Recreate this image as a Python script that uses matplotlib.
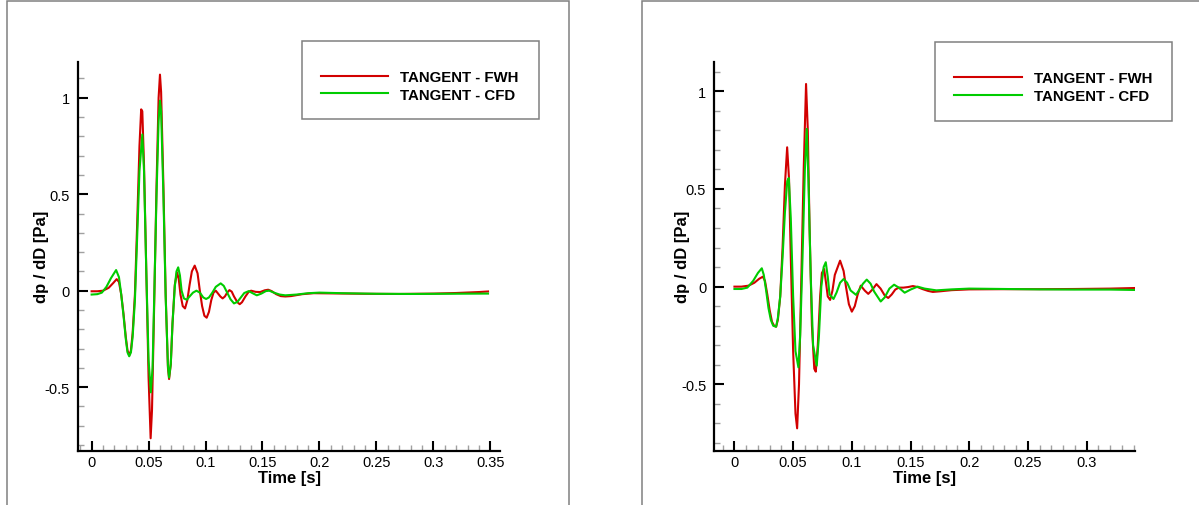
import numpy as np
import matplotlib
matplotlib.use("Agg")
import matplotlib.pyplot as plt
from matplotlib.patches import Rectangle
from matplotlib.ticker import MultipleLocator, FuncFormatter

plt.rcParams['font.family'] = ['Liberation Sans', 'DejaVu Sans']

# left panel: TANGENT - FWH (red)
t_fwh_a = [0.000, 0.005, 0.010, 0.015, 0.019, 0.022, 0.024, 0.026, 0.028, 0.030,
           0.0315, 0.033, 0.0345, 0.036, 0.038, 0.040, 0.042, 0.0435, 0.0445, 0.046,
           0.048, 0.050, 0.0518, 0.053, 0.055, 0.057, 0.0588, 0.060, 0.061, 0.063,
           0.065, 0.067, 0.068, 0.0695, 0.071, 0.073, 0.075, 0.0765, 0.078, 0.080,
           0.082, 0.084, 0.086, 0.088, 0.0905, 0.093, 0.095, 0.097, 0.099, 0.101,
           0.103, 0.105, 0.107, 0.109, 0.111, 0.113, 0.115, 0.117, 0.119, 0.121,
           0.123, 0.125, 0.128, 0.130, 0.132, 0.135, 0.138, 0.140, 0.144, 0.148,
           0.152, 0.155, 0.158, 0.162, 0.166, 0.170, 0.175, 0.185, 0.195, 0.210,
           0.240, 0.270, 0.300, 0.320, 0.340, 0.348]
y_fwh_a = [-0.003, -0.003, 0.000, 0.015, 0.040, 0.060, 0.045, -0.020, -0.120, -0.240,
           -0.310, -0.335, -0.310, -0.220, -0.020, 0.350, 0.750, 0.940, 0.930, 0.650,
           0.100, -0.450, -0.765, -0.620, -0.050, 0.550, 1.000, 1.120, 1.030, 0.550,
           -0.020, -0.400, -0.458, -0.380, -0.170, 0.030, 0.095, 0.060, -0.020, -0.080,
           -0.092, -0.050, 0.030, 0.100, 0.130, 0.090, 0.000, -0.080, -0.130, -0.140,
           -0.110, -0.050, -0.010, 0.000, -0.015, -0.030, -0.040, -0.030, -0.010, 0.003,
           -0.005, -0.030, -0.060, -0.070, -0.060, -0.030, -0.005, 0.000, -0.006, -0.007,
           0.002, 0.005, -0.002, -0.018, -0.028, -0.030, -0.028, -0.018, -0.013, -0.014,
           -0.016, -0.017, -0.015, -0.012, -0.007, -0.004]

# left panel: TANGENT - CFD (green)
t_cfd_a = [0.000, 0.005, 0.009, 0.013, 0.017, 0.0215, 0.024, 0.026, 0.028, 0.030,
           0.0315, 0.033, 0.0345, 0.036, 0.038, 0.040, 0.042, 0.0445, 0.046, 0.048,
           0.050, 0.052, 0.0535, 0.055, 0.057, 0.0588, 0.060, 0.061, 0.063, 0.065,
           0.067, 0.068, 0.0695, 0.071, 0.073, 0.0745, 0.076, 0.0775, 0.079, 0.081,
           0.0835, 0.086, 0.089, 0.092, 0.095, 0.098, 0.1005, 0.103, 0.106, 0.109,
           0.1133, 0.116, 0.119, 0.122, 0.125, 0.128, 0.131, 0.134, 0.138, 0.141,
           0.145, 0.149, 0.153, 0.156, 0.160, 0.165, 0.170, 0.180, 0.190, 0.200,
           0.220, 0.250, 0.280, 0.310, 0.348]
y_cfd_a = [-0.020, -0.018, -0.010, 0.020, 0.065, 0.107, 0.070, -0.020, -0.130, -0.250,
           -0.320, -0.340, -0.320, -0.240, -0.050, 0.280, 0.620, 0.810, 0.620, 0.100,
           -0.360, -0.527, -0.400, -0.020, 0.500, 0.880, 0.985, 0.930, 0.500, -0.030,
           -0.390, -0.450, -0.380, -0.170, 0.020, 0.100, 0.121, 0.080, 0.000, -0.040,
           -0.047, -0.030, -0.010, 0.000, -0.010, -0.035, -0.043, -0.035, -0.010, 0.020,
           0.038, 0.025, -0.010, -0.045, -0.066, -0.058, -0.035, -0.012, -0.002, -0.012,
           -0.024, -0.015, -0.002, 0.000, -0.010, -0.020, -0.024, -0.020, -0.013, -0.010,
           -0.013, -0.016, -0.017, -0.016, -0.015]

# right panel: TANGENT - FWH (red)
t_fwh_b = [0.000, 0.006, 0.012, 0.017, 0.021, 0.0242, 0.026, 0.028, 0.030, 0.032,
           0.0338, 0.0355, 0.037, 0.039, 0.041, 0.043, 0.0449, 0.0465, 0.048, 0.050,
           0.052, 0.0534, 0.055, 0.057, 0.059, 0.061, 0.0625, 0.064, 0.066, 0.068,
           0.0693, 0.071, 0.073, 0.0745, 0.0764, 0.078, 0.0795, 0.0815, 0.0835, 0.0855,
           0.090, 0.093, 0.095, 0.0975, 0.100, 0.1025, 0.105, 0.1076, 0.111, 0.114,
           0.1175, 0.121, 0.1245, 0.128, 0.131, 0.134, 0.137, 0.140, 0.144, 0.148,
           0.152, 0.156, 0.160, 0.165, 0.169, 0.175, 0.185, 0.200, 0.230, 0.260,
           0.290, 0.320, 0.341]
y_fwh_b = [0.000, 0.000, 0.005, 0.020, 0.040, 0.051, 0.030, -0.040, -0.120, -0.180,
           -0.200, -0.205, -0.170, -0.050, 0.200, 0.520, 0.713, 0.550, 0.150, -0.330,
           -0.650, -0.725, -0.500, 0.050, 0.600, 1.037, 0.800, 0.300, -0.200, -0.420,
           -0.435, -0.300, -0.050, 0.070, 0.090, 0.020, -0.050, -0.068, -0.020, 0.060,
           0.133, 0.080, 0.000, -0.090, -0.128, -0.100, -0.040, 0.005, -0.020, -0.037,
           -0.015, 0.013, -0.010, -0.045, -0.058, -0.040, -0.015, -0.005, -0.005, -0.002,
           0.003, -0.002, -0.012, -0.022, -0.027, -0.024, -0.018, -0.014, -0.013, -0.013,
           -0.012, -0.010, -0.007]

# right panel: TANGENT - CFD (green)
t_cfd_b = [0.000, 0.006, 0.011, 0.016, 0.020, 0.0233, 0.025, 0.027, 0.029, 0.031,
           0.033, 0.0355, 0.037, 0.039, 0.041, 0.043, 0.045, 0.0463, 0.048, 0.050,
           0.052, 0.0545, 0.056, 0.058, 0.060, 0.0616, 0.063, 0.065, 0.067, 0.0701,
           0.072, 0.074, 0.076, 0.0778, 0.0795, 0.081, 0.0844, 0.087, 0.090, 0.093,
           0.096, 0.099, 0.1036, 0.107, 0.1095, 0.1127, 0.116, 0.119, 0.1246, 0.128,
           0.132, 0.136, 0.140, 0.145, 0.150, 0.156, 0.162, 0.172, 0.185, 0.200,
           0.230, 0.260, 0.290, 0.320, 0.341]
y_cfd_b = [-0.012, -0.012, -0.005, 0.030, 0.070, 0.094, 0.060, -0.020, -0.110, -0.170,
           -0.200, -0.205, -0.160, -0.050, 0.150, 0.380, 0.540, 0.556, 0.350, -0.050,
           -0.330, -0.413, -0.250, 0.150, 0.600, 0.807, 0.550, 0.050, -0.300, -0.404,
           -0.250, 0.000, 0.100, 0.125, 0.050, -0.040, -0.063, -0.030, 0.020, 0.039,
           0.020, -0.020, -0.042, -0.010, 0.015, 0.036, 0.015, -0.025, -0.076, -0.055,
           -0.010, 0.010, -0.005, -0.031, -0.015, 0.000, -0.010, -0.019, -0.014, -0.010,
           -0.012, -0.014, -0.015, -0.015, -0.017]

fwh_label = 'TANGENT - FWH'
cfd_label = 'TANGENT - CFD'
red = '#d20000'
green = '#00cc00'
gray = '#808080'

fig = plt.figure(figsize=(11.99, 5.06), dpi=100)

# gray panel frames
fig.add_artist(Rectangle((0.0058, -0.1), 0.469, 1.0955, transform=fig.transFigure,
                         fill=False, edgecolor=gray, lw=1.1))
fig.add_artist(Rectangle((0.5357, -0.1), 0.6, 1.0955, transform=fig.transFigure,
                         fill=False, edgecolor=gray, lw=1.1))

ax1 = fig.add_axes([0.0653, 0.1067, 0.3517, 0.7694])
ax2 = fig.add_axes([0.5959, 0.1067, 0.3507, 0.7694])

# axes, x/y limits, legend box (figure fraction), legend anchor, ylabel x
panels = [
    (ax1, t_fwh_a, y_fwh_a, t_cfd_a, y_cfd_a, (-0.0117, 0.3585), (-0.831, 1.187),
     (0.2516, 0.7628, 0.1982, 0.1536), (0.2677, 0.8286), -0.069),
    (ax2, t_fwh_b, y_fwh_b, t_cfd_b, y_cfd_b, (-0.017, 0.3412), (-0.841, 1.151),
     (0.7798, 0.7595, 0.1979, 0.1549), (0.7959, 0.8256), -0.058),
]

fmt = FuncFormatter(lambda v, p: '%g' % round(v, 4))

for ax, tf, yf, tc, yc, xl, yl, box, lpos, ylx in panels:
    ax.plot(tf, yf, color=red, lw=1.5, label=fwh_label)
    ax.plot(tc, yc, color=green, lw=1.5, label=cfd_label)
    ax.set_xlim(*xl)
    ax.set_ylim(*yl)
    for s in ['top', 'right']:
        ax.spines[s].set_visible(False)
    for s in ['left', 'bottom']:
        ax.spines[s].set_linewidth(1.6)
        ax.spines[s].set_color('black')
    ax.xaxis.set_major_locator(MultipleLocator(0.05))
    ax.xaxis.set_minor_locator(MultipleLocator(0.01))
    ax.yaxis.set_major_locator(MultipleLocator(0.5))
    ax.yaxis.set_minor_locator(MultipleLocator(0.1))
    ax.xaxis.set_major_formatter(fmt)
    ax.yaxis.set_major_formatter(fmt)
    ax.tick_params(which='major', direction='in', length=7, width=1.5, color='black',
                   labelsize=10.5)
    ax.tick_params(axis='y', which='major', pad=6)
    ax.tick_params(axis='x', which='major', pad=3)
    ax.tick_params(which='minor', direction='in', length=4.5, width=1, color='#a0a0a0')
    ax.set_xlabel('Time [s]', fontsize=12, fontweight='bold')
    ax.set_ylabel('dp / dD [Pa]', fontsize=12, fontweight='bold')
    ax.xaxis.set_label_coords(0.5, -0.05)
    ax.yaxis.set_label_coords(ylx, 0.5)

    fig.add_artist(Rectangle(box[:2], box[2], box[3], transform=fig.transFigure,
                             fill=False, edgecolor=gray, lw=1.1))
    ax.legend(loc='center left', bbox_to_anchor=lpos, bbox_transform=fig.transFigure,
              borderaxespad=0, borderpad=0, frameon=False,
              prop={'weight': 'bold', 'size': 10.8}, handlelength=4.5,
              handletextpad=0.8, labelspacing=0.25)

fig.savefig('out.png', dpi=100)
